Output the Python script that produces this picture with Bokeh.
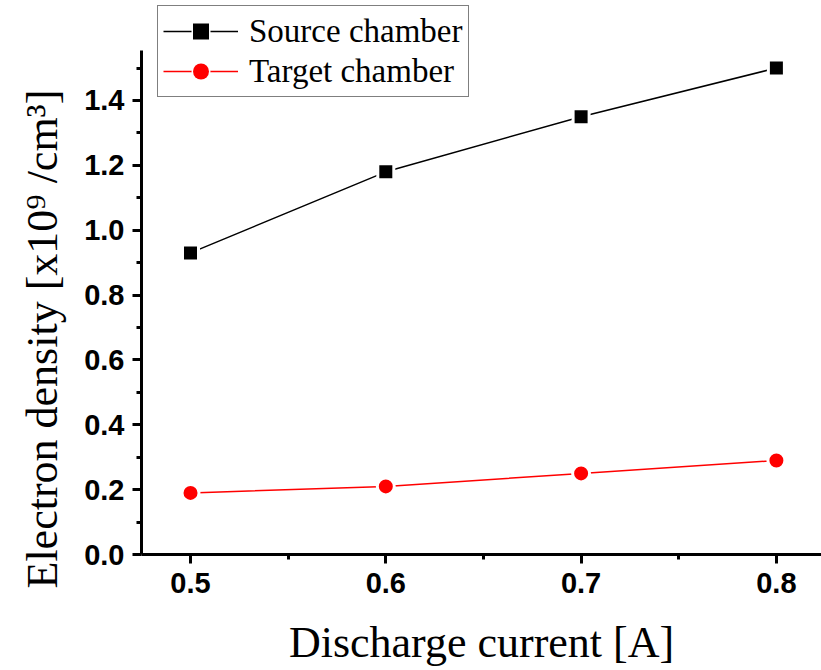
from bokeh.plotting import figure
from bokeh.models import Range1d, FixedTicker, Legend, LegendItem, Title, NumeralTickFormatter
from bokeh.embed import file_html
from bokeh.resources import INLINE

current = [0.5, 0.6, 0.7, 0.8]
source_density = [0.93, 1.18, 1.35, 1.50]
target_density = [0.19, 0.21, 0.25, 0.29]

x_major = [0.5, 0.6, 0.7, 0.8]
x_minor = [0.55, 0.65, 0.75]
y_major = [0.0, 0.2, 0.4, 0.6, 0.8, 1.0, 1.2, 1.4]
y_minor = [0.1, 0.3, 0.5, 0.7, 0.9, 1.1, 1.3, 1.5]

p = figure(width=821, height=670,
           x_range=Range1d(0.4749, 0.8231), y_range=Range1d(0.0, 1.7083),
           output_backend="svg", toolbar_location=None,
           min_border_left=141, min_border_right=0, min_border_top=0,
           min_border_bottom=116)
p.outline_line_color = None
p.xgrid.visible = False
p.ygrid.visible = False
p.background_fill_color = "white"
p.border_fill_color = "white"

# series
l1 = p.line(current, source_density, line_color="black", line_width=1.5)
u1 = p.scatter(current, source_density, marker="square", size=13,
               fill_color="black", line_color=None)
s1 = p.scatter(current, source_density, marker="square", size=16,
               fill_color="black", line_color="white", line_width=3)
l2 = p.line(current, target_density, line_color="red", line_width=1.5)
u2 = p.scatter(current, target_density, marker="circle", size=14,
               fill_color="red", line_color=None)
s2 = p.scatter(current, target_density, marker="circle", size=17,
               fill_color="red", line_color="white", line_width=3)

# axes
for ax in (p.xaxis[0], p.yaxis[0]):
    ax.axis_line_width = 3
    ax.axis_line_color = "black"
    ax.major_tick_line_width = 3
    ax.minor_tick_line_width = 3
    ax.major_tick_line_color = "black"
    ax.minor_tick_line_color = "black"
    ax.major_tick_in = 0
    ax.minor_tick_in = 0
    ax.major_tick_out = 9
    ax.minor_tick_out = 5
    ax.major_label_text_font = "Liberation Sans"
    ax.major_label_text_font_size = "29px"
    ax.major_label_text_font_style = "bold"
    ax.major_label_text_color = "black"
    ax.formatter = NumeralTickFormatter(format="0.0")

p.xaxis.ticker = FixedTicker(ticks=x_major, minor_ticks=x_minor)
p.yaxis.ticker = FixedTicker(ticks=y_major, minor_ticks=y_minor)
p.yaxis.bounds = (0.0, 1.554)
p.xaxis.major_label_standoff = 9
p.yaxis.major_label_standoff = 8
p.xaxis.axis_label = "Discharge current [A]"
p.xaxis.axis_label_text_font = "Liberation Serif"
p.xaxis.axis_label_text_font_size = "44px"
p.xaxis.axis_label_text_font_style = "normal"
p.xaxis.axis_label_text_color = "black"
p.xaxis.axis_label_standoff = 22

ytitle = Title(text="Electron density [x10\u2079 /cm\u00b3]", align="left",
               offset=-34, text_font="Liberation Serif",
               text_font_size="44px", text_font_style="normal",
               text_color="black", standoff=30)
p.add_layout(ytitle, "left")

legend = Legend(items=[LegendItem(label="Source chamber", renderers=[l1, s1, u1]),
                       LegendItem(label="Target chamber", renderers=[l2, s2, u2])],
                location=(16, 457), margin=0, padding=5, spacing=0,
                glyph_width=75, glyph_height=40, label_height=40,
                label_standoff=11,
                label_text_font="Liberation Serif", label_text_font_size="33px",
                label_text_color="black",
                border_line_color="black", border_line_width=1,
                background_fill_color="white", background_fill_alpha=1.0)
p.add_layout(legend)

open("out.html", "w").write(file_html(p, INLINE))
